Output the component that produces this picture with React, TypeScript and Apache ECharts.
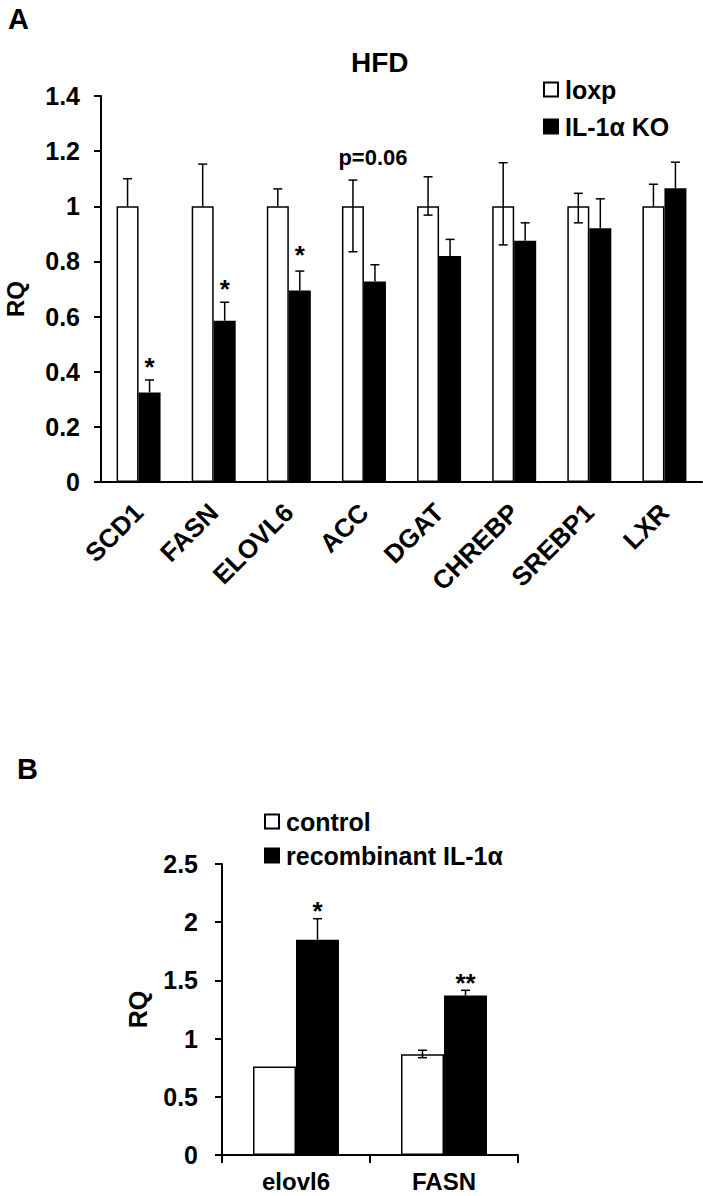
import React, { useEffect, useRef } from "react";
import * as echarts from "echarts";

const FONT = '"Liberation Sans", Arial, sans-serif';

// Panel A
const catsA = ["SCD1", "FASN", "ELOVL6", "ACC", "DGAT", "CHREBP", "SREBP1", "LXR"];
const loxpVals = [1, 1, 1, 1, 1, 1, 1, 1];
const loxpErrHi = [1.1, 1.153, 1.063, 1.095, 1.107, 1.158, 1.047, 1.08];
const loxpErrLo: (number | null)[] = [null, null, null, 0.835, 0.968, 0.86, 0.94, null];
const koVals = [0.325, 0.585, 0.695, 0.727, 0.82, 0.875, 0.92, 1.065];
const koErrHi = [0.37, 0.652, 0.765, 0.788, 0.88, 0.94, 1.027, 1.16];
const starCatsA = [0, 1, 2]; // SCD1, FASN, ELOVL6
const starValsA = [0.44, 0.72, 0.845];
const starTextA = ["*", "*", "*"];
const pCatA = [3]; // ACC
const pValA = [1.177];
const pTextA = ["p=0.06"];

// Panel B
const catsB = ["elovl6", "FASN"];
const ctrlVals = [0.76, 0.865];
const ctrlErrHi: (number | null)[] = [null, 0.9];
const ctrlErrLo: (number | null)[] = [null, 0.836];
const recVals = [1.85, 1.37];
const recErrHi = [2.03, 1.415];
const starCatsB = [0, 1];
const starValsB = [2.15, 1.53];
const starTextB = ["*", "**"];

const txt = (size: number) => ({
  fontSize: size,
  fontWeight: "bold" as const,
  fontFamily: FONT,
  color: "#000",
});

function errData(vals: number[], hi: (number | null)[], lo: (number | null)[] | null) {
  return vals.map((v, i) => {
    const h = hi[i];
    const l = lo ? lo[i] : null;
    return [i, h == null ? v : h, l == null ? v : l, v, h == null ? 0 : 1, l == null ? 0 : 1];
  });
}

function errSeries(data: number[][], xi: number, off: number, color: string) {
  return {
    type: "custom",
    xAxisIndex: xi,
    yAxisIndex: xi,
    z: 10,
    silent: true,
    encode: { x: 0, y: 1 },
    data,
    renderItem: (params: any, api: any) => {
      const i = api.value(0);
      const hi = api.value(1);
      const lo = api.value(2);
      const v = api.value(3);
      const hasHi = api.value(4);
      const hasLo = api.value(5);
      if (!hasHi && !hasLo) return null;
      const x = api.coord([i, v])[0] + off;
      const yHi = api.coord([i, hi])[1];
      const yLo = api.coord([i, lo])[1];
      const cap = 4.5;
      const st = { stroke: color, lineWidth: 1.5 };
      const children: any[] = [
        { type: "line", shape: { x1: x, y1: yLo, x2: x, y2: yHi }, style: st },
      ];
      if (hasHi)
        children.push({ type: "line", shape: { x1: x - cap, y1: yHi, x2: x + cap, y2: yHi }, style: st });
      if (hasLo)
        children.push({ type: "line", shape: { x1: x - cap, y1: yLo, x2: x + cap, y2: yLo }, style: st });
      return { type: "group", children };
    },
  };
}

function annot(
  cats: number[],
  vals: number[],
  texts: string[],
  xi: number,
  dx: number,
  dy: number,
  size: number
) {
  return {
    type: "custom",
    xAxisIndex: xi,
    yAxisIndex: xi,
    z: 12,
    silent: true,
    encode: { x: 0, y: 1 },
    data: cats.map((c, i) => [c, vals[i]]),
    renderItem: (params: any, api: any) => {
      const p = api.coord([api.value(0), api.value(1)]);
      return {
        type: "text",
        x: p[0] + dx,
        y: p[1] + dy,
        style: {
          text: texts[params.dataIndex],
          fill: "#000",
          font: `bold ${size}px ${FONT}`,
          align: "center",
          verticalAlign: "middle",
        },
      };
    },
  };
}

export default function App() {
  const ref = useRef<HTMLDivElement>(null);
  useEffect(() => {
    if (!ref.current) return;
    const chart = echarts.init(ref.current, undefined, { renderer: "svg" });
    const axisLine = { show: true, lineStyle: { color: "#000", width: 2 } };
    chart.setOption({
      animation: false,
      backgroundColor: "#fff",
      title: [
        { text: "A", left: 8, top: 4, padding: 0, textStyle: txt(29) },
        { text: "HFD", left: 351, top: 48, padding: 0, textStyle: txt(28) },
        { text: "B", left: 17, top: 754, padding: 0, textStyle: txt(29) },
      ],
      legend: [
        {
          data: ["loxp", "IL-1α KO"],
          left: 543,
          top: 77,
          orient: "vertical",
          icon: "rect",
          itemWidth: 14,
          itemHeight: 14,
          itemGap: 12,
          padding: 0,
          selectedMode: false,
          textStyle: { ...txt(25), padding: [0, 0, 0, 2] },
        },
        {
          data: ["control", "recombinant IL-1α"],
          left: 264,
          top: 809,
          orient: "vertical",
          icon: "rect",
          itemWidth: 14,
          itemHeight: 14,
          itemGap: 9,
          padding: 0,
          selectedMode: false,
          textStyle: { ...txt(25), padding: [0, 0, 0, 2] },
        },
      ],
      grid: [
        { left: 101, top: 96, width: 601, height: 386, containLabel: false, outerBoundsMode: "none" },
        { left: 222, top: 864, width: 296, height: 291, containLabel: false, outerBoundsMode: "none" },
      ],
      xAxis: [
        {
          type: "category",
          gridIndex: 0,
          data: catsA,
          axisLine,
          axisTick: { show: false },
          axisLabel: { rotate: 45, interval: 0, margin: 26, ...txt(26) },
        },
        {
          type: "category",
          gridIndex: 1,
          data: catsB,
          axisLine,
          axisTick: { show: true, length: 8, lineStyle: { color: "#000", width: 2 } },
          axisLabel: { interval: 0, margin: 16, lineHeight: 20, ...txt(24) },
        },
      ],
      yAxis: [
        {
          type: "value",
          gridIndex: 0,
          min: 0,
          max: 1.4,
          interval: 0.2,
          splitLine: { show: false },
          axisLine,
          axisTick: { show: true, length: 7, lineStyle: { color: "#000", width: 2 } },
          axisLabel: { margin: 21, ...txt(25) },
          name: "RQ",
          nameLocation: "middle",
          nameGap: 76,
          nameTextStyle: { ...txt(24), lineHeight: 20, padding: [0, 20, 0, 0] },
        },
        {
          type: "value",
          gridIndex: 1,
          min: 0,
          max: 2.5,
          interval: 0.5,
          splitLine: { show: false },
          axisLine,
          axisTick: { show: true, length: 7, lineStyle: { color: "#000", width: 2 } },
          axisLabel: { margin: 24, ...txt(25) },
          name: "RQ",
          nameLocation: "middle",
          nameGap: 72,
          nameTextStyle: txt(25),
        },
      ],
      series: [
        {
          name: "loxp",
          type: "bar",
          xAxisIndex: 0,
          yAxisIndex: 0,
          data: loxpVals,
          barWidth: 22,
          barGap: "0%",
          itemStyle: { color: "#fff", borderColor: "#000", borderWidth: 1.5 },
        },
        {
          name: "IL-1α KO",
          type: "bar",
          xAxisIndex: 0,
          yAxisIndex: 0,
          data: koVals,
          barWidth: 22,
          barGap: "0%",
          itemStyle: { color: "#000", borderColor: "#000", borderWidth: 1.5 },
        },
        errSeries(errData(loxpVals, loxpErrHi, loxpErrLo), 0, -11, "#000"),
        errSeries(errData(koVals, koErrHi, null), 0, 11, "#000"),
        annot(starCatsA, starValsA, starTextA, 0, 11, 6, 26),
        annot(pCatA, pValA, pTextA, 0, 9, 0, 22),
        {
          name: "control",
          type: "bar",
          xAxisIndex: 1,
          yAxisIndex: 1,
          data: ctrlVals,
          barWidth: 43,
          barGap: "0%",
          itemStyle: { color: "#fff", borderColor: "#000", borderWidth: 1.5 },
        },
        {
          name: "recombinant IL-1α",
          type: "bar",
          xAxisIndex: 1,
          yAxisIndex: 1,
          data: recVals,
          barWidth: 43,
          barGap: "0%",
          itemStyle: { color: "#000", borderColor: "#000", borderWidth: 1.5 },
        },
        errSeries(errData(ctrlVals, ctrlErrHi, ctrlErrLo), 1, -21.5, "#000"),
        errSeries(errData(recVals, recErrHi, null), 1, 21.5, "#000"),
        annot(starCatsB, starValsB, starTextB, 1, 21.5, 6, 26),
      ],
    });
    return () => chart.dispose();
  }, []);
  return (
    <div
      ref={ref}
      style={{ position: "fixed", left: 0, top: 0, width: 703, height: 1196, background: "#fff" }}
    />
  );
}
